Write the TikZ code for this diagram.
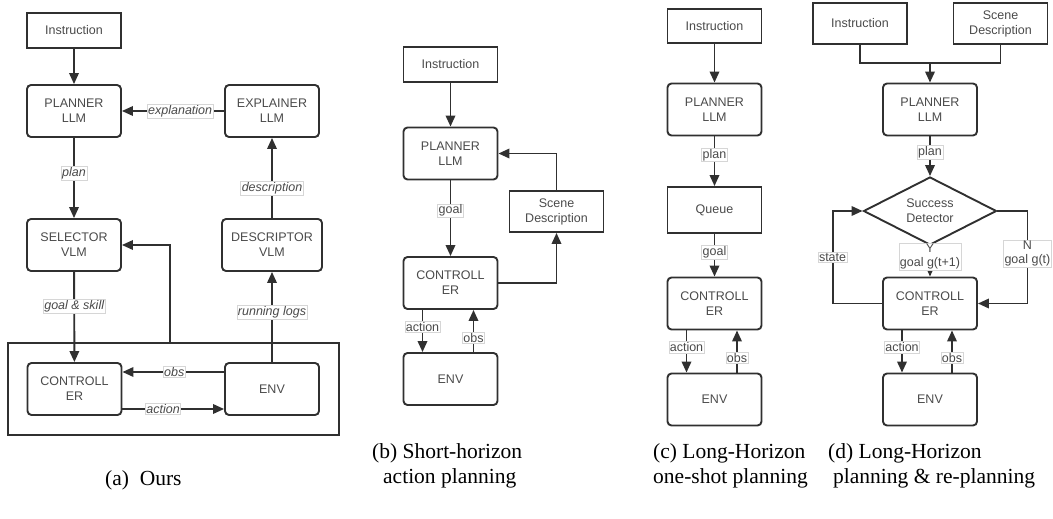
\documentclass[tikz,border=0pt]{standalone}
\usepackage{fontspec}
\setmainfont{Liberation Sans}
\newfontfamily\capfont{Liberation Serif}
\usetikzlibrary{arrows.meta,shapes.geometric,fit,positioning}

\definecolor{ink}{HTML}{303030}
\definecolor{txt}{HTML}{4A4A4A}
\definecolor{lblline}{HTML}{D6D6D6}

\tikzset{
  box/.style={draw=ink, line width=1.9pt, rounded corners=4pt, minimum width=94pt,
    minimum height=52pt, inner sep=2pt, align=center, text=txt,
    font=\fontsize{12.5}{15}\selectfont},
  sqbox/.style={box, rounded corners=0pt, minimum height=35pt},
  dec/.style={draw=ink, line width=1.9pt, diamond, aspect=2, minimum width=133pt,
    minimum height=68pt, inner sep=0pt, align=center, text=txt,
    font=\fontsize{12.5}{15}\selectfont},
  arr/.style={draw=ink, line width=1.9pt, -{Triangle[length=11pt,width=9.5pt]}},
  wire/.style={draw=ink, line width=1.9pt},
  lbl/.style={fill=white, draw=lblline, line width=0.6pt, inner sep=1pt, align=center,
    text=txt, font=\fontsize{12.5}{14}\selectfont},
  ilbl/.style={lbl, font=\fontsize{12.5}{14}\selectfont\itshape},
  captxt/.style={anchor=base west, inner sep=0pt, align=left,
    font=\capfont\fontsize{21.5}{24.5}\selectfont},
}

\begin{document}
\begin{tikzpicture}[x=1pt, y=-1pt, node distance=96pt]
  \useasboundingbox (0,0) rectangle (1053,519);

  % (a) ours
  \node[sqbox] (ia) at (74,30.5) {Instruction};
  \node[box] (pa) at (74,111) {PLANNER\\LLM};
  \node[box] (ea) at (272,111) {EXPLAINER\\LLM};
  \node[box] (sa) at (74,245) {SELECTOR\\VLM};
  \node[box, minimum width=100pt] (da) at (272,245) {DESCRIPTOR\\VLM};
  \node[box] (ca) at (74.5,389) {CONTROLL\\ER};
  \node[box] (enva) at (272,389) {ENV};
  \node[wire, fit=(ca)(enva), inner sep=19pt] (loop) {};

  \draw[arr] (ia) -- (pa);
  \draw[arr] (ea) -- node[ilbl,pos=0.43] {explanation} (pa);
  \draw[arr] (pa) -- node[ilbl,pos=0.44] {plan} (sa);
  \draw[arr] (sa) -- node[ilbl,pos=0.38] {goal \& skill} (ca);
  \draw[arr] (da) -- node[ilbl,pos=0.37] {description} (ea);
  \draw[arr] (enva) -- node[ilbl,pos=0.55] {running logs} (da);
  \draw[arr] ([yshift=17pt]enva.west) -- node[ilbl,pos=0.49] {obs} ([yshift=17pt]ca.east);
  \draw[arr] ([yshift=-20pt]ca.east) -- node[ilbl,pos=0.4] {action} ([yshift=-20pt]enva.west);
  \draw[arr] ([xshift=-3pt]loop.north) |- (sa);

  % (b) short-horizon
  \node[sqbox] (ib) at (450.5,64.5) {Instruction};
  \node[box] (pb) at (450.5,153.5) {PLANNER\\LLM};
  \node[sqbox, minimum height=41pt] (sb) at (556.5,211.5) {Scene\\Description};
  \node[box] (cb) at (450.5,283) {CONTROLL\\ER};
  \node[box, below of=cb] (envb) {ENV};

  \draw[arr] (ib) -- (pb);
  \draw[arr] (pb) -- node[lbl,pos=0.4] {goal} (cb);
  \draw[arr] (cb) -| (sb);
  \draw[arr] (sb) |- (pb);
  \draw[arr] ([xshift=-28pt]cb.south) -- node[lbl,pos=0.4] {action} ([xshift=-28pt]envb.north);
  \draw[arr] ([xshift=23pt]envb.north) -- node[lbl,pos=0.33] {obs} ([xshift=23pt]cb.south);

  % (c) one-shot
  \node[sqbox, minimum height=34pt] (ic) at (714.5,26) {Instruction};
  \node[box] (pc) at (714.5,109.5) {PLANNER\\LLM};
  \node[sqbox, minimum height=46pt] (qc) at (714.5,210) {Queue};
  \node[box] (cc) at (714.5,303.5) {CONTROLL\\ER};
  \node[box, below of=cc] (envc) {ENV};

  \draw[arr] (ic) -- (pc);
  \draw[arr] (pc) -- node[lbl,pos=0.37] {plan} (qc);
  \draw[arr] (qc) -- node[lbl,pos=0.43] {goal} (cc);
  \draw[arr] ([xshift=-28pt]cc.south) -- node[lbl,pos=0.4] {action} ([xshift=-28pt]envc.north);
  \draw[arr] ([xshift=22.5pt]envc.north) -- node[lbl,pos=0.35] {obs} ([xshift=22.5pt]cc.south);

  % (d) re-planning
  \node[sqbox, minimum height=41pt] (id) at (860,23.5) {Instruction};
  \node[sqbox, minimum height=41pt] (sd) at (1000.5,23.5) {Scene\\Description};
  \coordinate (jn) at (930,63);
  \node[box] (pd) at (930,109.5) {PLANNER\\LLM};
  \node[dec] (det) at (930,211) {Success\\Detector};
  \node[box] (cd) at (930,303.5) {CONTROLL\\ER};
  \node[box, below of=cd] (envd) {ENV};

  \draw[wire] (id) |- (jn) -| (sd);
  \draw[arr] (jn) -- (pd);
  \draw[arr] (pd) -- node[lbl,pos=0.4] {plan} (det);
  \draw[arr] (det) -- node[lbl,pos=0.35] {Y\\goal g(t+1)} (cd);
  \draw[arr] (cd.west) -| node[lbl,pos=0.75] {state} ([xshift=-30pt]det.west) -- (det.west);
  \draw[arr] (det.east) -- ([xshift=30pt]det.east) |- node[lbl,pos=0.23] {N\\goal g(t)} (cd);
  \draw[arr] ([xshift=-28pt]cd.south) -- node[lbl,pos=0.4] {action} ([xshift=-28pt]envd.north);
  \draw[arr] ([xshift=22pt]envd.north) -- node[lbl,pos=0.35] {obs} ([xshift=22pt]cd.south);

  % captions
  \node[captxt] (capa) at (105,485) {(a)\ \ Ours};
  \node[captxt] (capb) at (372,483) {(b) Short-horizon\\\hspace*{11pt}action planning};
  \node[captxt] (capc) at (653,483) {(c) Long-Horizon\\one-shot planning};
  \node[captxt] (capd) at (828,483) {(d) Long-Horizon\\\hspace*{5pt}planning \& re-planning};
\end{tikzpicture}
\end{document}
